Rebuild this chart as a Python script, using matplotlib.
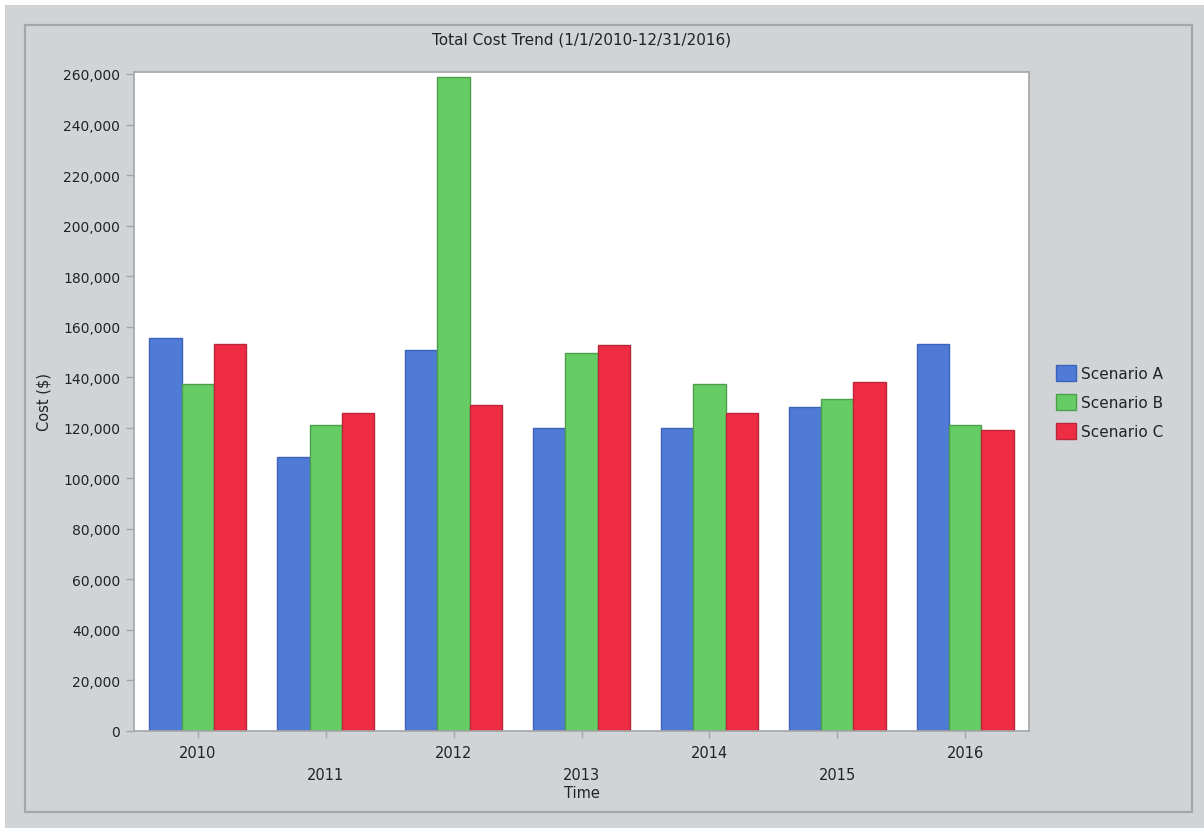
import matplotlib
matplotlib.use("Agg")
import matplotlib.pyplot as plt
from matplotlib.patches import Rectangle
import numpy as np

years = ["2010", "2011", "2012", "2013", "2014", "2015", "2016"]
scenario_names = ["Scenario A", "Scenario B", "Scenario C"]
scenario_a = [155500, 108500, 150900, 120000, 119900, 128300, 153300]
scenario_b = [137400, 121100, 258900, 149600, 137400, 131400, 121000]
scenario_c = [153300, 125800, 129000, 152600, 126000, 138000, 119200]
y_ticks = list(range(0, 260001, 20000))

fill_colors = ["#4f7bd6", "#66cc66", "#ee2c44"]
edge_colors = ["#3d63b8", "#4c9f4c", "#b8283a"]
panel_bg = "#d1d4d7"
frame_gray = "#a6a6a6"
text_color = "#222222"

plt.rcParams["font.family"] = ["DejaVu Sans"]
plt.rcParams["font.size"] = 10

W, H = 1204, 829
fig = plt.figure(figsize=(W / 100, H / 100), dpi=100)
fig.patch.set_facecolor(panel_bg)

# thin white strips at top and left edges, and the inner panel frame
fig.add_artist(Rectangle((0, 1 - 6 / H), 1, 6 / H, transform=fig.transFigure,
                         facecolor="white", edgecolor="none", zorder=0))
fig.add_artist(Rectangle((0, 0), 5 / W, 1, transform=fig.transFigure,
                         facecolor="white", edgecolor="none", zorder=0))
fig.add_artist(Rectangle((25 / W, 1 - 813 / H), (1192 - 25) / W, (813 - 26) / H,
                         transform=fig.transFigure, facecolor="none",
                         edgecolor=frame_gray, linewidth=1.6, zorder=1))

ax_left, ax_right, ax_top, ax_bottom = 134, 1029, 73, 732
ax = fig.add_axes([ax_left / W, 1 - ax_bottom / H, (ax_right - ax_left) / W,
                   (ax_bottom - ax_top) / H])
ax.set_facecolor("white")

x = np.arange(len(years))
bw = 0.253
series = [scenario_a, scenario_b, scenario_c]
handles = []
for i, vals in enumerate(series):
    h = ax.bar(x + (i - 1) * bw, vals, width=bw, color=fill_colors[i],
               edgecolor=edge_colors[i], linewidth=1.0, label=scenario_names[i],
               zorder=2)
    handles.append(h)

ax.set_xlim(-0.5, len(years) - 0.5)
ax.set_ylim(0, 260000 * (ax_bottom - ax_top) / (ax_bottom - 75))
ax.set_yticks(y_ticks)
ax.set_yticklabels([f"{v:,}" for v in y_ticks], color=text_color)
ax.set_xticks(x)
ax.set_xticklabels(years, color=text_color, fontsize=10.5)

for s in ax.spines.values():
    s.set_color(frame_gray)
    s.set_linewidth(1.2)

ax.tick_params(axis="y", length=6, width=1, color=frame_gray, pad=4)
ax.tick_params(axis="x", length=5, width=1, color=frame_gray, pad=5)
for i, t in enumerate(ax.xaxis.get_major_ticks()):
    if i % 2 == 1:
        t.set_pad(21)

cx = (ax_left + ax_right) / 2 / W
fig.text(cx, 1 - 40 / H, "Total Cost Trend (1/1/2010-12/31/2016)",
         ha="center", va="center", color=text_color, fontsize=11)
fig.text(cx, 1 - 794 / H, "Time", ha="center", va="center",
         color=text_color, fontsize=10.5)
fig.text(44 / W, 1 - 402 / H, "Cost ($)", ha="center", va="center",
         rotation=90, color=text_color, fontsize=10.5)

leg = ax.legend(handles=handles, loc="upper left",
                bbox_to_anchor=(1056 / W, 1 - 366 / H),
                bbox_transform=fig.transFigure, frameon=False,
                prop={"size": 11},
                handlelength=1.3, handleheight=1.2, handletextpad=0.35,
                labelspacing=0.85, borderpad=0, borderaxespad=0)
for t in leg.get_texts():
    t.set_color(text_color)

fig.savefig("out.png", dpi=100, facecolor=fig.get_facecolor())
